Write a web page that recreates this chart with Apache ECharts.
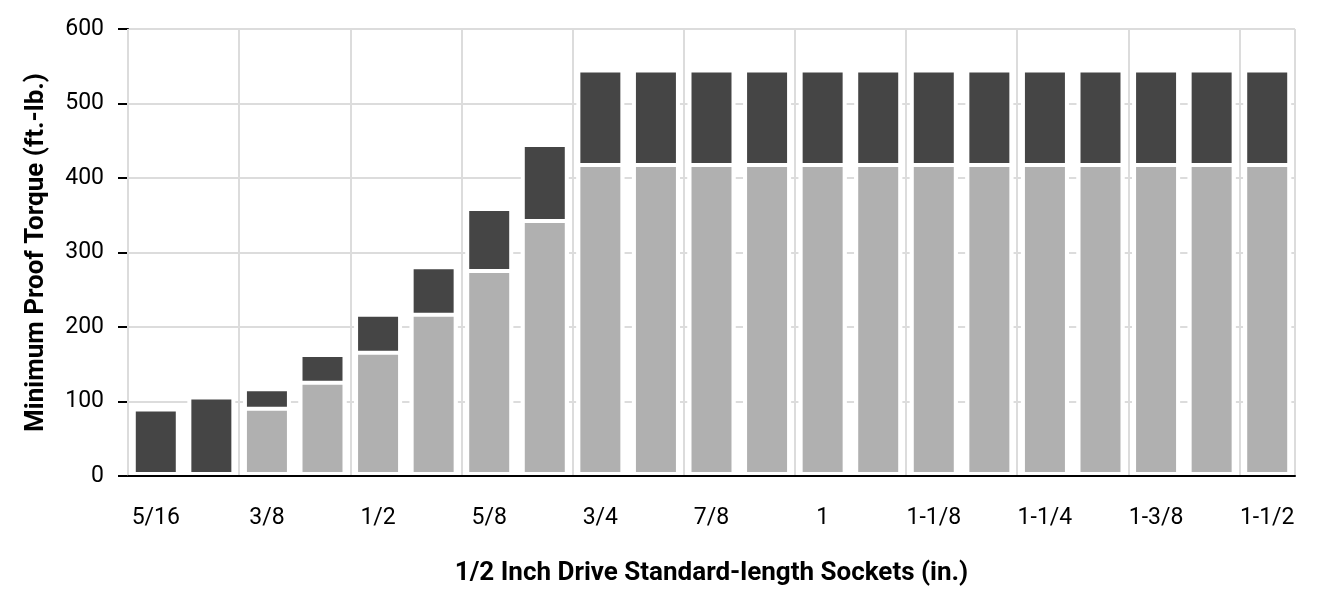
<!DOCTYPE html>
<html>
<head>
<meta charset="utf-8">
<style>
  html, body { margin: 0; padding: 0; background: #fff; }
  #chart { width: 1320px; height: 606px; }
</style>
<script src="https://cdn.jsdelivr.net/npm/echarts@6/dist/echarts.min.js"></script>
</head>
<body>
<div id="chart"></div>
<script>
// socket sizes, 1/2 inch drive
var sizes = ['5/16', '11/32', '3/8', '7/16', '1/2', '9/16', '5/8', '11/16', '3/4', '13/16', '7/8', '15/16',
             '1', '1-1/16', '1-1/8', '1-3/16', '1-1/4', '1-5/16', '1-3/8', '1-7/16', '1-1/2'];
// upper proof torque (dark bars), ft.-lb.
var upperTorque = [92, 108, 119, 165, 219, 283, 361, 447, 547, 547, 547, 547,
                   547, 547, 547, 547, 547, 547, 547, 547, 547];
// lower proof torque (light bars), drawn over the dark ones
var lowerTorque = ['-', '-', 93, 128, 168, 219, 278, 345, 420, 420, 420, 420,
                   420, 420, 420, 420, 420, 420, 420, 420, 420];

var chart = echarts.init(document.getElementById('chart'));

var labelFont = { fontFamily: 'Roboto', fontSize: 23, color: '#000' };
var nameFont = { fontFamily: 'Roboto', fontSize: 26, fontWeight: 'bold', color: '#000' };

var option = {
    animation: false,
    textStyle: { fontFamily: 'Roboto' },
    grid: { left: 128, right: 25, top: 29, bottom: 130 },
    xAxis: {
        type: 'category',
        data: sizes,
        z: 3,
        name: '1/2 Inch Drive Standard-length Sockets (in.)',
        nameLocation: 'middle',
        nameGap: 84,
        nameTextStyle: nameFont,
        axisLine: { lineStyle: { color: '#000', width: 2 } },
        axisTick: { alignWithLabel: true, interval: 1, length: 10, lineStyle: { color: '#000', width: 2 } },
        axisLabel: Object.assign({ interval: 1, margin: 31 }, labelFont),
        //竖线在每两个类目的边界
        splitLine: { show: true, interval: 1, lineStyle: { color: '#dcdcdc', width: 2 } }
    },
    yAxis: {
        type: 'value',
        min: 0,
        max: 600,
        interval: 100,
        name: 'Minimum Proof Torque (ft.-lb.)',
        nameLocation: 'middle',
        nameGap: 79,
        nameTextStyle: nameFont,
        axisLine: { show: true, lineStyle: { color: '#000', width: 2 } },
        axisTick: { show: true, length: 10, lineStyle: { color: '#000', width: 2 } },
        axisLabel: Object.assign({ margin: 24 }, labelFont),
        splitLine: { lineStyle: { color: '#dcdcdc', width: 2 } }
    },
    series: [{
        name: 'upper',
        type: 'bar',
        data: upperTorque,
        barWidth: 48,
        barGap: '-100%',
        itemStyle: { color: '#454545', borderColor: '#fff', borderWidth: 4 }
    }, {
        name: 'lower',
        type: 'bar',
        data: lowerTorque,
        barWidth: 48,
        barGap: '-100%',
        itemStyle: { color: '#b0b0b0', borderColor: '#fff', borderWidth: 4 }
    }]
};

chart.setOption(option);
</script>
</body>
</html>
